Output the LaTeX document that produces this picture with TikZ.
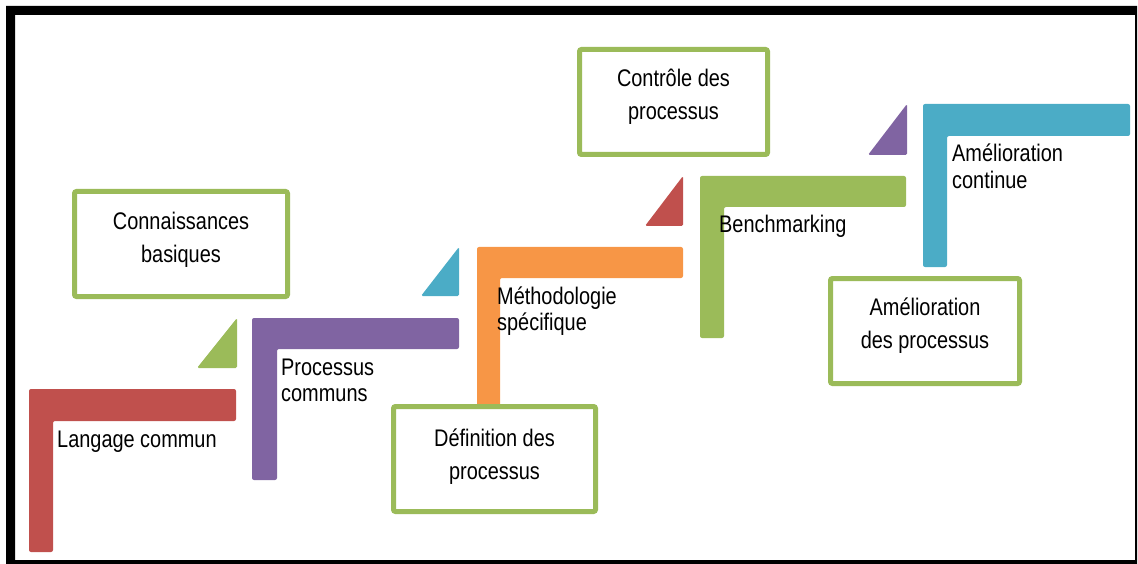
\documentclass[tikz,border=0pt]{standalone}
\usepackage{fontspec}
\setmainfont{Liberation Sans}[FakeStretch=0.83]
\definecolor{cred}{HTML}{C0504D}
\definecolor{cgreen}{HTML}{9BBB59}
\definecolor{cpurple}{HTML}{8064A2}
\definecolor{ccyan}{HTML}{4BACC6}
\definecolor{corange}{HTML}{F79646}
\begin{document}
\begin{tikzpicture}[x=1pt,y=-1pt,
  lbar/.style={rounded corners=2pt},
  tri/.style={rounded corners=1.5pt},
  gbox/.style={draw=cgreen, line width=5pt, fill=white, rounded corners=2pt},
  lbl/.style={font=\fontsize{24}{26.5}\selectfont, inner sep=0pt, anchor=base west, align=left},
  blbl/.style={font=\fontsize{24}{33}\selectfont, inner sep=0pt, anchor=base, align=center}]
\useasboundingbox (0,0) rectangle (1138,564);
% frame
\fill[black, even odd rule] (6,6) rectangle (1137,564) (15,15) rectangle (1135,560);
% L shapes
\fill[cred, lbar] (29,389) -- (236,389) -- (236,421) -- (53,421) -- (53,552) -- (29,552) -- cycle;
\fill[cpurple, lbar] (252,318) -- (459,318) -- (459,349) -- (277,349) -- (277,480) -- (252,480) -- cycle;
\fill[corange, lbar] (477,247) -- (683,247) -- (683,278) -- (500,278) -- (500,412) -- (477,412) -- cycle;
\fill[cgreen, lbar] (700,176) -- (906,176) -- (906,207) -- (724,207) -- (724,338) -- (700,338) -- cycle;
\fill[ccyan, lbar] (923,104) -- (1130,104) -- (1130,136) -- (947,136) -- (947,267) -- (923,267) -- cycle;
% triangles
\fill[cgreen, tri] (237,318) -- (237,368) -- (197,368) -- cycle;
\fill[ccyan, tri] (459,247) -- (459,296) -- (421,296) -- cycle;
\fill[cred, tri] (683,176) -- (683,226) -- (645,226) -- cycle;
\fill[cpurple, tri] (907,104) -- (907,155) -- (868,155) -- cycle;
% boxes
\draw[gbox] (74.5,191.5) rectangle (287.5,296.5);
\draw[gbox] (393.5,406.5) rectangle (595.5,511.5);
\draw[gbox] (579.5,49.5) rectangle (767.5,154.5);
\draw[gbox] (830.5,278.5) rectangle (1019.5,383.5);
% L labels (base anchor = last line)
\node[lbl] (t1) at (57,447) {Langage commun};
\node[lbl] (t2) at (281,401.5) {Processus\\communs};
\node[lbl] (t3) at (497,330.5) {Méthodologie\\spécifique};
\node[lbl] (t4) at (719,233) {Benchmarking};
\node[lbl] (t5) at (952,188.5) {Amélioration\\continue};
% box labels
\node[blbl] (b1) at (181,262) {Connaissances\\basiques};
\node[blbl] (b2) at (494.5,479) {Définition des\\processus};
\node[blbl] (b3) at (673.5,120) {Contrôle des\\processus};
\node[blbl] (b4) at (925,348) {Amélioration\\des processus};
\end{tikzpicture}
\end{document}
